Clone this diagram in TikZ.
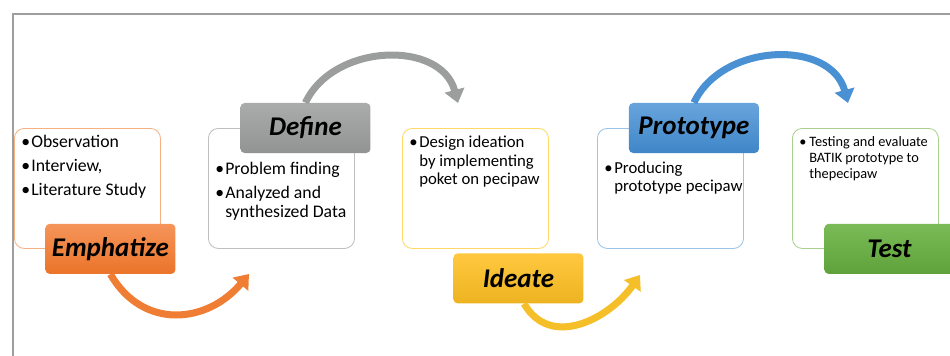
\documentclass[tikz,border=0pt]{standalone}
\usepackage{fontspec}
\setmainfont{Carlito}
\usetikzlibrary{arrows.meta,calc}

\definecolor{emphline}{HTML}{F4B183}
\definecolor{emphtop}{HTML}{F5945A}
\definecolor{emphbot}{HTML}{EB7429}
\definecolor{emphfl}{HTML}{EF7D33}
\definecolor{defline}{HTML}{BFBFBF}
\definecolor{deftop}{HTML}{AAACAC}
\definecolor{defbot}{HTML}{929494}
\definecolor{deffl}{HTML}{9C9E9E}
\definecolor{ideline}{HTML}{FFD966}
\definecolor{idetop}{HTML}{FFC83F}
\definecolor{idebot}{HTML}{EDB321}
\definecolor{idefl}{HTML}{F5BF2A}
\definecolor{proline}{HTML}{9DC3E6}
\definecolor{protop}{HTML}{68A4DC}
\definecolor{probot}{HTML}{3F86C8}
\definecolor{profl}{HTML}{4A91D3}
\definecolor{tesline}{HTML}{A9D18E}
\definecolor{testop}{HTML}{7ABB57}
\definecolor{tesbot}{HTML}{5FA23A}

% body of a box: top gap, size, skip, items
\newcommand{\bodytext}[4]{%
  \begin{minipage}[t][3cm][t]{3.65cm}%
  \fontsize{#2}{#3}\selectfont
  \leftskip=5pt\rightskip=0pt plus 1fil\parskip=3.6pt
  \vspace*{#1}#4%
  \end{minipage}}
\newcommand{\bitem}[1]{\par\noindent\hangindent=7pt\hangafter=1
  \makebox[7pt][l]{•}#1\par}

\begin{document}
\begin{tikzpicture}[x=0.025cm,y=-0.025cm]
    \tikzstyle{every node} = [font=\fontsize{12.6}{13.5}\selectfont]
    \tikzstyle{tbox} = [draw, rectangle, fill=white, rounded corners=7pt, inner sep=0pt, anchor=north west, line width=0.6pt]
    \tikzstyle{stage} = [rectangle, rounded corners=3pt, minimum width=3.25cm, minimum height=1.25cm, inner sep=0pt, font=\fontsize{19.2}{21}\selectfont\bfseries\itshape]
    \tikzstyle{cyclearrow} = [line width=5pt, -{Triangle[width=14pt,length=9.5pt]}]
    \tikzstyle{frameline} = [draw=black!38, line width=0.9pt]

    \useasboundingbox (0,0) rectangle (950,356);
    \draw[frameline] (950,14) -- (13,14) -- (13,356);

    % place nodes
    \node[tbox,draw=emphline](emphbox) at (14,128)
      {\bodytext{5pt}{12.6pt}{13.5pt}{\bitem{Observation}\bitem{Interview,}\bitem{Literature Study}}};
    \node[tbox,draw=defline](defbox) at (208,128)
      {\bodytext{24pt}{12.6pt}{13.5pt}{\bitem{Problem finding}\bitem{Analyzed and\\synthesized Data}}};
    \node[tbox,draw=ideline](idebox) at (402,128)
      {\bodytext{5.5pt}{11.9pt}{13.2pt}{\bitem{Design ideation\\by implementing\\poket on pecipaw}}};
    \node[tbox,draw=proline](probox) at (597,128)
      {\bodytext{23.5pt}{11.9pt}{13.2pt}{\bitem{Producing\\prototype pecipaw}}};
    \node[tbox,draw=tesline](tesbox) at (792,128)
      {\bodytext{5.7pt}{10.2pt}{11.4pt}{\bitem{Testing and evaluate\\BATIK prototype to\\thepecipaw}}};

    \coordinate (emphend) at (249,274);
    \coordinate (defend) at (458,103);
    \coordinate (ideend) at (640,275);
    \coordinate (proend) at (848,103);

    \node[stage,top color=emphtop,bottom color=emphbot](emph) at ($(emphbox.south)+(23,0)$){Emphatize};
    \node[stage,top color=deftop,bottom color=defbot](def) at ($(defbox.north)+(24,0)$){Define};
    \node[stage,top color=idetop,bottom color=idebot](ide) at ($(idebox.south)+(43,29.5)$){Ideate};
    \node[stage,top color=protop,bottom color=probot](pro) at ($(probox.north)+(23.5,0)$){Prototype};
    \node[stage,top color=testop,bottom color=tesbot](tes) at ($(tesbox.south)+(24,0)$){Test};

    % Connections
    \draw[cyclearrow,emphfl]
    (emph.south) to[out=-60,in=-130,looseness=1.2] (emphend);
    \draw[cyclearrow,deffl]
    (def.north) to[out=65,in=105,looseness=1.1] (defend);
    \draw[cyclearrow,idefl]
    ([xshift=4]ide.south) to[out=-60,in=-125,looseness=1.14] (ideend);
    \draw[cyclearrow,profl]
    (pro.north) to[out=65,in=105,looseness=1.1] (proend);

\end{tikzpicture}
\end{document}
